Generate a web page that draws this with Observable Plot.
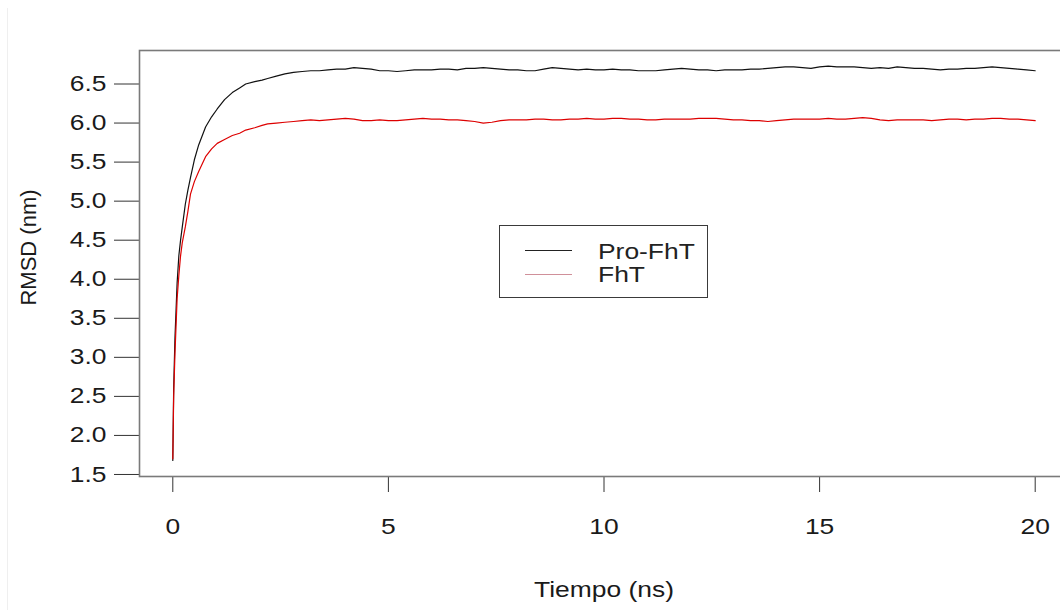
<!DOCTYPE html>
<html>
<head>
<meta charset="utf-8">
<script src="https://cdn.jsdelivr.net/npm/d3@7"></script>
<script src="https://cdn.jsdelivr.net/npm/@observablehq/plot@0.6"></script>
<style>
  html, body { margin: 0; padding: 0; background: #fff; overflow: hidden; width: 1060px; height: 610px; }
  #wrap { position: relative; width: 1060px; height: 610px; overflow: hidden; font-family: "Liberation Sans", Arial, sans-serif; }
  #wrap svg { max-width: none !important; width: 1068px; height: 610px; display: block; }
  #edge { position: absolute; left: 7px; top: 8px; width: 1px; height: 602px; background: #efefef; }
  #legend { position: absolute; left: 499px; top: 225px; width: 207px; height: 71px; border: 1px solid #3a3a3a; background: #fff; }
  #legend .ln { position: absolute; left: 25px; width: 47px; height: 1px; }
  #legend .tx { position: absolute; left: 98px; font-size: 22px; line-height: 22px; color: #222; white-space: nowrap; transform: scaleX(1.2); transform-origin: left center; }
</style>
</head>
<body>
<div id="wrap"><div id="edge"></div></div>
<script>
// ---- Data ----
const seriesNames = ["Pro-FhT", "FhT"];
const seriesColors = ["#111111", "#dd0000"];
const legendLineColors = ["#222222", "#d0909a"];

const timeNs = [
  0, 0.02, 0.05, 0.1, 0.14, 0.18, 0.22, 0.29, 0.35, 0.41,
  0.5, 0.6, 0.76, 0.9, 1.03, 1.2, 1.38, 1.55, 1.69, 1.9, 2.07,
  2.2, 2.4, 2.6, 2.8, 3.0, 3.2, 3.4, 3.6, 3.8, 4.0,
  4.2, 4.4, 4.6, 4.8, 5.0, 5.2, 5.4, 5.6, 5.8, 6.0,
  6.2, 6.4, 6.6, 6.8, 7.0, 7.2, 7.4, 7.6, 7.8, 8.0,
  8.2, 8.4, 8.6, 8.8, 9.0, 9.2, 9.4, 9.6, 9.8, 10.0,
  10.2, 10.4, 10.6, 10.8, 11.0, 11.2, 11.4, 11.6, 11.8, 12.0,
  12.2, 12.4, 12.6, 12.8, 13.0, 13.2, 13.4, 13.6, 13.8, 14.0,
  14.2, 14.4, 14.6, 14.8, 15.0, 15.2, 15.4, 15.6, 15.8, 16.0,
  16.2, 16.4, 16.6, 16.8, 17.0, 17.2, 17.4, 17.6, 17.8, 18.0,
  18.2, 18.4, 18.6, 18.8, 19.0, 19.2, 19.4, 19.6, 19.8, 20.0
];

const rmsdProFhT = [
  1.68, 2.6, 3.25, 3.95, 4.3, 4.5, 4.67, 4.96, 5.14, 5.3,
  5.53, 5.72, 5.95, 6.08, 6.18, 6.30, 6.39, 6.45, 6.50, 6.53, 6.55,
  6.57, 6.60, 6.63, 6.65, 6.66, 6.67, 6.67, 6.68, 6.69, 6.69,
  6.71, 6.70, 6.69, 6.67, 6.67, 6.66, 6.67, 6.68, 6.68, 6.68,
  6.69, 6.69, 6.68, 6.70, 6.70, 6.71, 6.70, 6.69, 6.68, 6.68,
  6.67, 6.67, 6.69, 6.71, 6.70, 6.69, 6.68, 6.69, 6.68, 6.68,
  6.69, 6.68, 6.68, 6.67, 6.67, 6.67, 6.68, 6.69, 6.70, 6.69,
  6.68, 6.68, 6.67, 6.68, 6.68, 6.68, 6.69, 6.69, 6.70, 6.71,
  6.72, 6.72, 6.71, 6.70, 6.72, 6.73, 6.72, 6.72, 6.72, 6.71,
  6.70, 6.71, 6.70, 6.72, 6.71, 6.70, 6.70, 6.69, 6.68, 6.69,
  6.69, 6.70, 6.70, 6.71, 6.72, 6.71, 6.70, 6.69, 6.68, 6.67
];

const rmsdFhT = [
  1.70, 2.5, 3.05, 3.75, 4.05, 4.3, 4.47, 4.67, 4.87, 5.09,
  5.25, 5.38, 5.57, 5.67, 5.74, 5.79, 5.84, 5.87, 5.91, 5.94, 5.97,
  5.99, 6.00, 6.01, 6.02, 6.03, 6.04, 6.03, 6.04, 6.05, 6.06,
  6.05, 6.03, 6.03, 6.04, 6.03, 6.03, 6.04, 6.05, 6.06, 6.05,
  6.05, 6.04, 6.04, 6.03, 6.02, 6.00, 6.01, 6.03, 6.04, 6.04,
  6.04, 6.05, 6.05, 6.04, 6.04, 6.05, 6.05, 6.06, 6.05, 6.05,
  6.06, 6.06, 6.05, 6.05, 6.04, 6.04, 6.05, 6.05, 6.05, 6.05,
  6.06, 6.06, 6.06, 6.05, 6.04, 6.04, 6.03, 6.03, 6.02, 6.03,
  6.04, 6.05, 6.05, 6.05, 6.05, 6.06, 6.05, 6.05, 6.06, 6.07,
  6.06, 6.04, 6.03, 6.04, 6.04, 6.04, 6.04, 6.03, 6.04, 6.05,
  6.05, 6.04, 6.05, 6.05, 6.06, 6.06, 6.05, 6.05, 6.04, 6.03
];

const xTicks = [0, 5, 10, 15, 20];
const yTicks = [1.5, 2.0, 2.5, 3.0, 3.5, 4.0, 4.5, 5.0, 5.5, 6.0, 6.5];
const xLabel = "Tiempo (ns)";
const yLabel = "RMSD (nm)";

// ---- Build table ----
const rows = [];
timeNs.forEach((t, i) => {
  rows.push({series: seriesNames[0], t, v: rmsdProFhT[i]});
});
timeNs.forEach((t, i) => {
  rows.push({series: seriesNames[1], t, v: rmsdFhT[i]});
});

const font = "'Liberation Sans', Arial, sans-serif";

const chart = Plot.plot({
  width: 1068,
  height: 610,
  marginLeft: 139,
  marginRight: 0,
  marginTop: 50,
  marginBottom: 134,
  style: {fontFamily: font, fontSize: "22px", background: "transparent", color: "#1a1a1a", overflow: "visible", maxWidth: "none"},
  x: {domain: [-0.7724, 20.7724]},
  y: {domain: [1.474, 6.929]},
  marks: [
    Plot.axisY(yTicks, {tickSize: 25, tickPadding: 8, tickFormat: d3.format(".1f"), label: null, fontSize: 22, stroke: "#333"}),
    Plot.axisX(xTicks, {tickSize: 16, tickPadding: 26, tickFormat: d3.format("d"), label: null, fontSize: 22, stroke: "#333"}),
    Plot.line(rows.filter(d => d.series === seriesNames[0]), {x: "t", y: "v", stroke: seriesColors[0], strokeWidth: 1.2}),
    Plot.line(rows.filter(d => d.series === seriesNames[1]), {x: "t", y: "v", stroke: seriesColors[1], strokeWidth: 1.2}),
    Plot.frame({stroke: "#7a7a7a", strokeWidth: 1.6}),
    Plot.text([xLabel], {text: d => d, frameAnchor: "bottom", textAnchor: "middle", lineAnchor: "middle", dy: 113, fontSize: 22, fill: "#1a1a1a"}),
    Plot.text([yLabel], {text: d => d, frameAnchor: "left", textAnchor: "middle", lineAnchor: "middle", rotate: -90, dx: -111, dy: -16, fontSize: 22, fill: "#1a1a1a"})
  ]
});

const wrap = document.getElementById("wrap");
wrap.appendChild(chart);

// The reference image is horizontally stretched: widen horizontal texts.
chart.querySelectorAll("text").forEach(el => {
  const tr = el.getAttribute("transform") || "";
  if (tr.includes("rotate")) return;
  const len = el.getComputedTextLength();
  if (len > 0) {
    el.setAttribute("textLength", (len * 1.2).toFixed(2));
    el.setAttribute("lengthAdjust", "spacingAndGlyphs");
  }
});

// ---- Legend ----
const legend = document.createElement("div");
legend.id = "legend";
const lineTops = [24, 48];
const textTops = [15, 38];
seriesNames.forEach((name, i) => {
  const ln = document.createElement("div");
  ln.className = "ln";
  ln.style.top = lineTops[i] + "px";
  ln.style.background = legendLineColors[i];
  legend.appendChild(ln);
  const tx = document.createElement("div");
  tx.className = "tx";
  tx.style.top = textTops[i] + "px";
  tx.textContent = name;
  legend.appendChild(tx);
});
wrap.appendChild(legend);
</script>
</body>
</html>
